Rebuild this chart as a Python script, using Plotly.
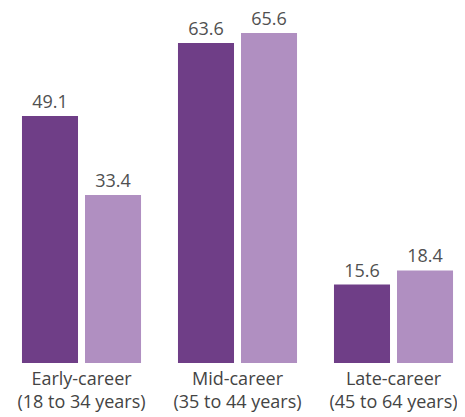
import plotly.graph_objects as go

categories = ["Early-career<br>(18 to 34 years)", "Mid-career<br>(35 to 44 years)", "Late-career<br>(45 to 64 years)"]
series_a = [49.1, 63.6, 15.6]
series_b = [33.4, 65.6, 18.4]

dark = "#6f3e87"
light = "#b08fc1"

fig = go.Figure()
for vals, col in [(series_a, dark), (series_b, light)]:
    fig.add_trace(go.Bar(
        x=categories, y=vals, marker=dict(color=col, line=dict(width=0)),
        text=[f"{v:.1f}" for v in vals], textposition="outside",
        textfont=dict(family="Open Sans", size=18, color="#505050"),
        cliponaxis=False, showlegend=False,
    ))

fig.update_layout(
    width=457, height=409,
    margin=dict(l=0, r=0, t=0, b=54),
    paper_bgcolor="white", plot_bgcolor="white",
    barmode="group", bargap=0.192, bargroupgap=0.111,
    xaxis=dict(range=[-0.4712, 2.4583], showgrid=False, zeroline=False, showline=False,
               ticks="", ticklabelstandoff=3,
               tickfont=dict(family="Open Sans", size=18, color="#444444")),
    yaxis=dict(range=[0, 70.58], visible=False),
)
fig.write_html("out.html")
